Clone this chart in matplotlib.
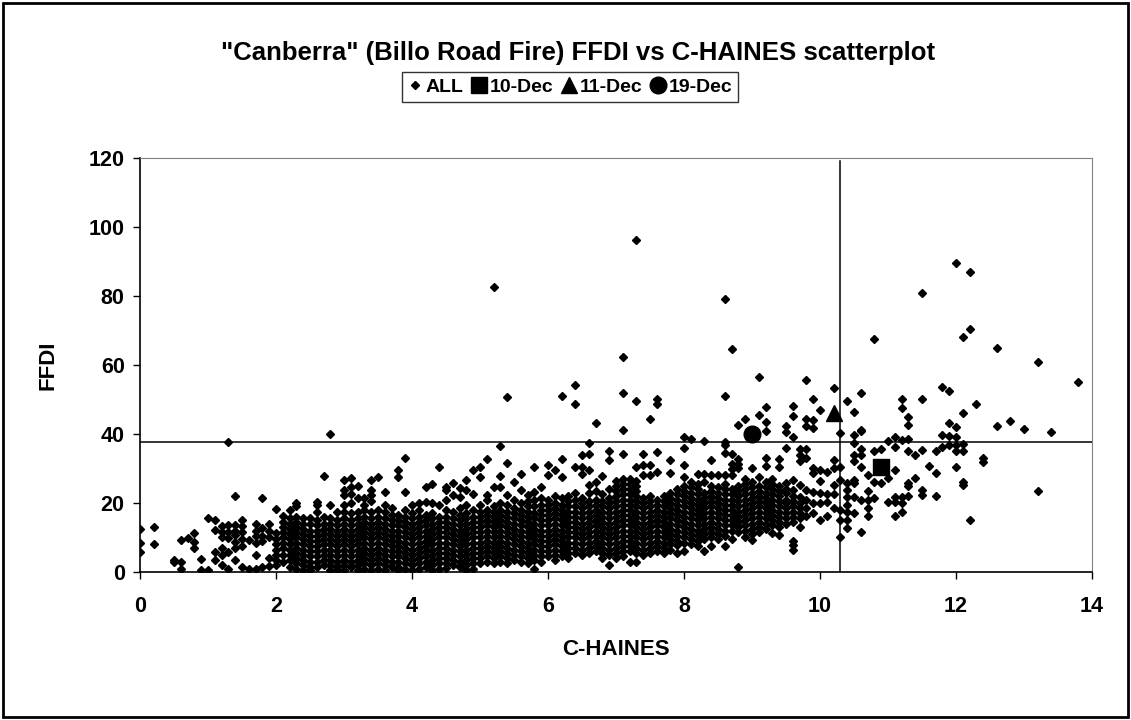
import matplotlib.pyplot as plt
from matplotlib.lines import Line2D
from matplotlib.patches import Rectangle

plt.rcParams['font.family'] = ['Liberation Sans', 'DejaVu Sans']
plt.rcParams['font.weight'] = 'bold'

# C-HAINES columns (0.1 steps) and the FFDI values read in each column
ch_a = [0.0, 0.2, 0.5, 0.6, 0.7, 0.8, 0.9, 1.0, 1.1, 1.2, 1.3, 1.4, 1.5, 1.6, 1.7, 1.8, 1.9]
ff_a = [
    [12.5, 8.5, 5.8], [13, 8], [3.5, 3.0], [9.2, 3.0, 1.0], [9.8], [11.2, 8.8, 6.9],
    [3.8, 0.5], [15.6, 0.5], [15, 12.2, 5.9, 3.5], [13.2, 11.5, 10, 7, 5, 2],
    [37.8, 13.6, 11.6, 9.8, 5.9, 1], [22.1, 13.6, 12, 10.7, 8.8, 6.9, 3.5],
    [15.1, 13.2, 11.5, 9.5, 7.5, 1.5], [9.2, 1], [14, 12, 10.5, 8.5, 5, 1],
    [21.3, 12.6, 10.5, 9, 1.5], [14, 12, 10, 4, 1.7],
]

ch_b = [2.0, 2.1, 2.2, 2.3, 2.4, 2.5, 2.6, 2.7, 2.8, 2.9, 3.0, 3.1, 3.2, 3.3, 3.4, 3.5, 3.6, 3.7, 3.8, 3.9]
ff_b = [
    [18.3, 11.3, 9.5, 8, 6.5, 5, 3.5, 2],
    [16.2, 14.5, 13, 11.5, 10, 8.5, 7, 5, 3],
    [18, 15.5, 14, 12.5, 11, 9.5, 8, 6.5, 5, 3.5, 1.5],
    [20, 19, 16, 14.5, 13, 11.5, 10, 8.5, 7, 5.5, 4, 2.5, 1],
    [15.5, 14, 12.5, 11, 9.5, 8, 6.5, 5, 3.5, 2, 0.5],
    [15.5, 14, 12, 10.5, 9, 7.5, 6, 4.5, 3, 1.5, 0.5],
    [20.4, 19.5, 17.5, 15, 13.5, 12, 10.5, 9, 7.5, 6, 4.5, 3, 1.5],
    [27.8, 16, 14, 12.5, 11, 9.5, 8, 6.5, 5, 3.5, 2],
    [39.9, 19.4, 15.5, 14, 12.5, 11, 9.5, 8, 6.5, 5, 3.5, 2, 0.5],
    [17.5, 15, 13.5, 12, 10.5, 9, 7.5, 6, 4.5, 3, 1.5, 0.5],
    [26.7, 23.7, 22.3, 19.4, 17.5, 15.5, 14, 12.5, 11, 9.5, 8, 6.5, 5, 3.5, 2, 0.5],
    [27.2, 24.6, 22.7, 20, 17, 15, 13.5, 12, 10.5, 9, 7.5, 6, 4.5, 3, 1.5],
    [25, 21.3, 17.5, 15.5, 14, 12.5, 11, 9.5, 8, 6.5, 5, 3.5, 2, 0.5],
    [21.3, 19.5, 18, 16, 14.5, 13, 11.5, 10, 8.5, 7, 5.5, 4, 2.5, 1],
    [26.7, 23.7, 22.3, 20.5, 17.5, 15.5, 14, 12.5, 11, 9.5, 8, 6.5, 5, 3.5, 2, 0.5],
    [27.6, 18, 16, 14.5, 13, 11.5, 10, 8.5, 7, 5.5, 4, 2.5, 1],
    [23.2, 19.4, 17.5, 15.5, 14, 12.5, 11, 9.5, 8, 6.5, 5, 3.5, 2, 0.5],
    [18.4, 16.5, 15, 13.5, 12, 10.5, 9, 7.5, 6, 4.5, 3, 1.5],
    [29.6, 27.6, 16.5, 15, 13.5, 12, 10.5, 9, 7.5, 6, 4.5, 3, 1.5, 0.5],
    [33, 23.2, 18, 16, 14.5, 13, 11.5, 10, 8.5, 7, 5.5, 4, 2.5, 1],
]

ch_c = [4.0, 4.1, 4.2, 4.3, 4.4, 4.5, 4.6, 4.7, 4.8, 4.9, 5.0, 5.1, 5.2, 5.3, 5.4, 5.5, 5.6, 5.7, 5.8, 5.9]
ff_c = [
    [19.5, 17, 15.5, 14, 12.5, 11, 9.5, 8, 6.5, 5, 3.5, 2, 0.5],
    [19.9, 18, 16, 14.5, 13, 11.5, 10, 8.5, 7, 5.5, 4, 2.5, 1],
    [24.7, 20.2, 16.5, 15, 13.5, 12, 10.5, 9, 7.5, 6, 4.5, 3, 1.5],
    [25.4, 19.9, 17, 15.5, 14, 12.5, 11, 9.5, 8, 6.5, 5, 3.5, 2, 0.5],
    [30.5, 19.4, 16, 14.5, 13, 11.5, 10, 8.5, 7, 5.5, 4, 2.5, 1],
    [24.7, 23.7, 20.9, 18, 16, 14.5, 13, 11.5, 10, 8.5, 7, 5.5, 4, 2.5, 1.2],
    [25.8, 22.3, 17.5, 15.5, 14, 12.5, 11, 9.5, 8, 6.5, 5, 3.5, 2],
    [24.2, 21.8, 18.5, 16.5, 15, 13.5, 12, 10.5, 9, 7.5, 6, 4.5, 3, 1.5],
    [26.7, 23.7, 19.5, 17, 15.5, 14, 12.5, 11, 9.5, 8, 6.5, 5, 3.5, 2, 0.5],
    [29.6, 22.7, 18, 16, 14.5, 13, 11.5, 10, 8.5, 7, 5.5, 4, 2.5, 1],
    [30.3, 27.4, 19.4, 17.5, 16, 14.5, 13, 11.5, 10, 8.5, 7, 5.5, 4, 2.5],
    [32.7, 22.3, 20.9, 18, 16.5, 15, 13.5, 12, 10.5, 9, 7.5, 6, 4.5, 3],
    [82.7, 24.7, 19, 17.5, 16, 14.5, 13, 11.5, 10, 8.5, 7, 5.5, 4, 2.5],
    [36.5, 27.8, 24.7, 20, 18, 16.5, 15, 13.5, 12, 10.5, 9, 7.5, 6, 4.5, 3],
    [50.6, 31.5, 22.3, 19.5, 17.5, 16, 14.5, 13, 11.5, 10, 8.5, 7, 5.5, 4, 2.5],
    [26.2, 20.9, 18.5, 17, 15.5, 14, 12.5, 11, 9.5, 8, 6.5, 5, 3.5],
    [28.3, 23.7, 20, 18, 16.5, 15, 13.5, 12, 10.5, 9, 7.5, 6, 4.5, 3],
    [22.3, 20.5, 19, 17.5, 16, 14.5, 13, 11.5, 10, 8.5, 7, 5.5, 4, 2.5],
    [30.3, 23.2, 21, 19, 17, 15.5, 14, 12.5, 11, 9.5, 8, 6.5, 5, 3.5, 1],
    [24.7, 21.5, 19.5, 18, 16.5, 15, 13.5, 12, 10.5, 9, 7.5, 6, 4.5, 3],
]

ch_d = [6.0, 6.1, 6.2, 6.3, 6.4, 6.5, 6.6, 6.7, 6.8, 6.9, 7.0, 7.1, 7.2, 7.3, 7.4, 7.5, 7.6, 7.7, 7.8, 7.9]
ff_d = [
    [31, 28.1, 21, 19.5, 18, 16.5, 15, 13.5, 12, 10.5, 9, 7.5, 6, 4.5],
    [29.6, 22, 20, 18.5, 17, 15.5, 14, 12.5, 11, 9.5, 8, 6.5, 5, 3.5],
    [51, 32.7, 27.6, 21.5, 19.5, 18, 16.5, 15, 13.5, 12, 10.5, 9, 7.5, 6, 4.5],
    [22, 20.5, 19, 17.5, 16, 14.5, 13, 11.5, 10, 8.5, 7, 5.5, 4],
    [54.2, 48.7, 30.5, 23, 21, 19, 17.5, 16, 14.5, 13, 11.5, 10, 8.5, 7, 5.5],
    [33.9, 30.5, 28.4, 21.5, 20, 18.5, 17, 15.5, 14, 12.5, 11, 9.5, 8, 6.5, 5],
    [37.3, 34.1, 29.6, 25.2, 22.8, 20.5, 19, 17.5, 16, 14.5, 13, 11.5, 10, 8.5, 7, 5.5],
    [43.1, 26, 23.5, 21, 19.5, 18, 16.5, 15, 13.5, 12, 10.5, 9, 7.5, 6],
    [27.9, 22.5, 20.5, 19, 17.5, 16, 14.5, 13, 11.5, 10, 8.5, 7, 5.5, 4],
    [35.2, 32.5, 24, 21.5, 20, 18.5, 17, 15.5, 14, 12.5, 11, 9.5, 8, 6.5, 5, 1.9],
    [26.5, 25, 23.5, 22, 20.5, 19, 17.5, 16, 14.5, 13, 11.5, 10, 8.5, 7, 5.5, 4],
    [62.2, 51.8, 41.2, 34.1, 27, 25.5, 24, 22.5, 21, 19.5, 18, 16.5, 15, 13.5, 12, 10.5, 9, 7.5, 6, 4.5],
    [27, 25.5, 24, 22.5, 21, 19.5, 18, 16.5, 15, 13.5, 12, 10.5, 9, 7.5, 6, 3],
    [96.2, 49.7, 30.5, 26.5, 25, 23.5, 22, 20.5, 19, 17.5, 16, 14.5, 13, 11.5, 10, 8.5, 7, 5.5, 3],
    [34.1, 31, 28, 21.5, 20, 18.5, 17, 15.5, 14, 12.5, 11, 9.5, 8, 6.5, 5],
    [44.3, 31, 28, 22, 20.5, 19, 17.5, 16, 14.5, 13, 11.5, 10, 8.5, 7, 5.5],
    [50.2, 48.8, 34.9, 29, 21, 19.5, 18, 16.5, 15, 13.5, 12, 10.5, 9, 7.5, 6],
    [22, 20.5, 19, 17.5, 16, 14.5, 13, 11.5, 10, 8.5, 7, 5.5],
    [32.5, 28.6, 23, 21.5, 20, 18.5, 17, 15.5, 14, 12.5, 11, 9.5, 8, 6.5],
    [24, 22.5, 21, 19.5, 18, 16.5, 15, 13.5, 12, 10.5, 9, 7.9, 5.5],
]

ch_e = [8.0, 8.1, 8.2, 8.3, 8.4, 8.5, 8.6, 8.7, 8.8, 8.9, 9.0, 9.1, 9.2, 9.3, 9.4, 9.5, 9.6, 9.7, 9.8, 9.9]
ff_e = [
    [39.2, 35.9, 31, 27.6, 25, 23.5, 22, 20.5, 19, 17.5, 16, 14.5, 13, 11.5, 10, 8.5, 6],
    [38.5, 26, 24.5, 23, 21.5, 20, 18.5, 17, 15.5, 14, 12.5, 11, 9.5, 8],
    [28.3, 25.5, 24, 22.5, 21, 19.5, 18, 16.5, 15, 13.5, 12, 10.5, 9, 7.5],
    [38.1, 28.3, 26, 23, 21.5, 20, 18.5, 17, 15.5, 14, 12.5, 11, 9.5, 6.1],
    [32.5, 28, 25, 23.5, 22, 20.5, 19, 17.5, 16, 14.5, 13, 11.5, 10, 7.5],
    [28, 24.5, 23, 21.5, 20, 18.5, 17, 15.5, 14, 12.5, 11, 9.5],
    [79.1, 51, 37.6, 36.8, 34.4, 28, 25.5, 24, 22.5, 21, 19.5, 18, 16.5, 15, 13.5, 12, 10.5, 7.5],
    [64.6, 34.1, 31.3, 29.8, 28, 24, 22.5, 21, 19.5, 18, 16.5, 15, 13.5, 12, 9.7],
    [42.6, 32.8, 31.3, 30, 25, 23.5, 22, 20.5, 19, 17.5, 16, 14.5, 13, 11.5, 1.5],
    [44.4, 27, 25.5, 24, 22.5, 21, 19.5, 18, 16.5, 15, 13.5, 12, 10.2],
    [30, 26, 24.5, 23, 21.5, 20, 18.5, 17, 15.5, 14, 12.5, 11, 9.2],
    [56.5, 45.4, 27.5, 25, 23.5, 22, 20.5, 19, 17.5, 16, 14.5, 13, 11.5],
    [47.9, 43.4, 40.9, 33.1, 30.8, 26, 24.5, 23, 21.5, 20, 18.5, 17, 15.5, 14, 12.5],
    [27, 25.5, 24, 22.5, 21, 19.5, 18, 16.5, 15, 13.5, 11.2],
    [32.7, 30.5, 25, 23.5, 22, 20.5, 19, 17.5, 16, 14.5, 13, 10.7],
    [42.2, 40.5, 35.9, 25.7, 24, 22.8, 21, 20, 18.5, 17, 15.5, 14],
    [48.1, 45.3, 39.2, 26.8, 23.8, 22, 20.5, 19, 17.5, 16, 14.5, 9.1, 7.8, 6.4],
    [35.6, 34, 32.2, 25.2, 21.8, 20, 18.5, 17, 15.5, 13.1],
    [55.7, 44.4, 42.2, 35.6, 33.1, 23.8, 21, 18.4, 16.1],
    [50.1, 44, 41.6, 30, 28.8, 23.3, 20, 17],
]

ch_f = [10.0, 10.1, 10.2, 10.3, 10.4, 10.5, 10.6, 10.7, 10.8, 10.9, 11.0, 11.1, 11.2, 11.3,
        11.4, 11.5, 11.6, 11.7, 11.8, 11.9, 12.0, 12.1, 12.2, 12.3, 12.4, 12.6, 12.8, 13.0,
        13.2, 13.4, 13.8]
ff_f = [
    [47, 29.5, 26.5, 23, 20, 15.1], [29.1, 22.7, 20.4, 16.1], [53.3, 32.5, 30.2, 25.2, 22.5, 18.4],
    [40.2, 30.5, 26.7, 18, 15.1, 10.2], [49.7, 25.7, 23.8, 21.8, 19.4, 17.5, 15, 12.7],
    [46.3, 39.8, 37.3, 33.9, 32.1, 26.8, 25.7, 21.8, 17], [52, 41.2, 40.8, 35.6, 33.9, 30.5, 21, 11.7],
    [28.1, 23.5, 21, 18.4, 16.1], [67.5, 35, 26, 21.3], [35.5, 25.7], [38.1, 27.2, 20.4],
    [39.1, 36.3, 29.5, 21.8, 20.4, 16.1], [50.2, 47.4, 38.3, 21.8, 20, 17.5],
    [45, 42.7, 38.6, 35.2, 25.7, 25, 22], [33.9, 27.1], [80.8, 50.2, 35.4, 23.8, 22.3], [30.6],
    [35.1, 28.7, 22.1], [53.5, 39.7, 36.3], [52.4, 43.1, 39.4, 36.8], [89.6, 41.9, 39.1, 36.9, 35, 30.5],
    [68, 46.2, 37.2, 35.1, 26, 25.2], [87, 70.3, 15.1], [48.6], [33, 32], [64.8, 42.2], [43.8],
    [41.4], [60.8, 23.5], [40.5], [55],
]

# highlighted days
dec10 = (10.9, 30.5)
dec11 = (10.2, 46.0)
dec19 = (9.0, 40.0)

# threshold lines
ffdi_thresh = 37.7
chaines_thresh = 10.3

x_all, y_all = [], []
for cols, vals in [(ch_a, ff_a), (ch_b, ff_b), (ch_c, ff_c), (ch_d, ff_d), (ch_e, ff_e), (ch_f, ff_f)]:
    for cx, ys in zip(cols, vals):
        x_all += [cx] * len(ys)
        y_all += ys

fig = plt.figure(figsize=(11.31, 7.2), dpi=100)
ax = fig.add_axes([0.1238, 0.2056, 0.8417, 0.5750])

ax.plot(x_all, y_all, 'D', color='black', markersize=4.4, linestyle='none', label='ALL')
ax.plot(*dec10, 's', color='black', markersize=11, label='10-Dec')
ax.plot(*dec11, '^', color='black', markersize=12, label='11-Dec')
ax.plot(*dec19, 'o', color='black', markersize=12, label='19-Dec')

ax.plot([0, 14], [ffdi_thresh, ffdi_thresh], color='black', lw=1.1, zorder=1)
ax.plot([chaines_thresh, chaines_thresh], [0, 119], color='black', lw=1.1, zorder=1)

ax.set_xlim(0, 14)
ax.set_ylim(0, 120)
ax.set_xticks(range(0, 15, 2))
ax.set_yticks(range(0, 121, 20))
ax.tick_params(direction='out', length=5, width=1, labelsize=15.5)
ax.tick_params(axis='x', pad=12)
ax.tick_params(axis='y', pad=6)
for s in ['top', 'right']:
    ax.spines[s].set_color('#808080')
for s in ['left', 'bottom']:
    ax.spines[s].set_linewidth(1.2)

ax.set_xlabel('C-HAINES', fontsize=16, fontweight='bold', labelpad=16)
ax.set_ylabel('FFDI', fontsize=16, fontweight='bold', labelpad=22)

fig.text(0.511, 0.927, '"Canberra" (Billo Road Fire) FFDI vs C-HAINES scatterplot',
         ha='center', va='center', fontsize=18.5, fontweight='bold')

handles = [
    Line2D([], [], marker='D', color='black', ls='none', markersize=4),
    Line2D([], [], marker='s', color='black', ls='none', markersize=11),
    Line2D([], [], marker='^', color='black', ls='none', markersize=12),
    Line2D([], [], marker='o', color='black', ls='none', markersize=12),
]
leg = fig.legend(handles, ['ALL', '10-Dec', '11-Dec', '19-Dec'], loc='center',
                 bbox_to_anchor=(0.504, 0.879), ncol=4, fontsize=14, frameon=True,
                 fancybox=False, edgecolor='black', handlelength=0.7, handletextpad=0.2,
                 columnspacing=0.45, borderpad=0.3, borderaxespad=0)
leg.get_frame().set_linewidth(1.0)

fig.patches.append(Rectangle((0.003, 0.004), 0.994, 0.992, transform=fig.transFigure,
                             fill=False, edgecolor='black', lw=2))

fig.savefig('out.png', dpi=100)
